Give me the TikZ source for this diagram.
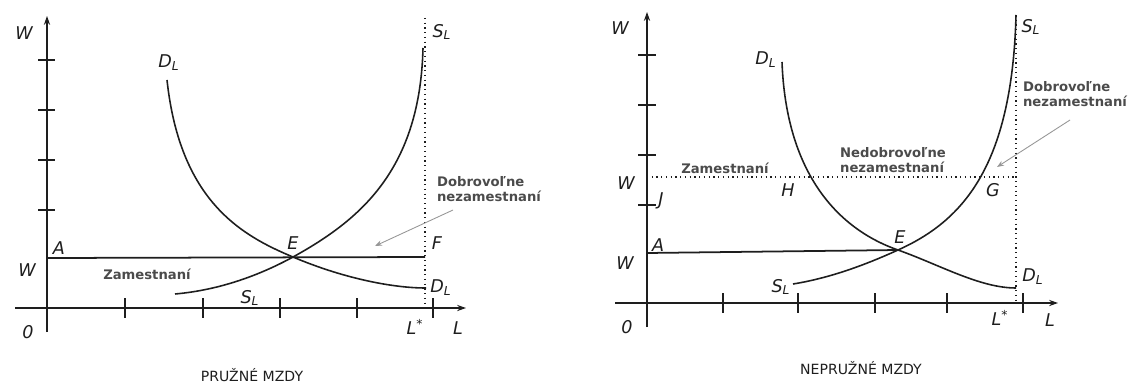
\documentclass[tikz,border=0pt]{standalone}
\usepackage{fontspec}
\setmainfont{DejaVu Sans}
\usetikzlibrary{arrows.meta, positioning}
\definecolor{inkGray}{RGB}{30,30,30}
\definecolor{noteGray}{RGB}{75,75,75}
\definecolor{arrowGray}{RGB}{150,150,150}

\begin{document}
\begin{tikzpicture}[
    x=0.02cm, y=-0.02cm,
    axis/.style={line width=1.2pt, draw=inkGray, -{Stealth[length=5pt,width=3.5pt]}},
    curve/.style={line width=0.9pt, draw=inkGray},
    level/.style={line width=1pt, draw=inkGray},
    guide/.style={line width=0.7pt, draw=inkGray, dotted},
    tickmark/.style={line width=0.9pt, draw=inkGray},
    lbl/.style={font=\fontsize{10}{12}\selectfont\itshape, text=inkGray, inner sep=0pt},
    note/.style={font=\fontsize{7.5}{9}\selectfont\bfseries, text=noteGray, align=left, inner sep=0pt},
    caption/.style={font=\fontsize{8}{10}\selectfont, text=inkGray, inner sep=0pt},
    pointer/.style={draw=arrowGray, line width=0.5pt, -{Stealth[length=4pt,width=3pt]}}
]
\useasboundingbox (0,0) rectangle (1128,385);

\coordinate (o1) at (47,308);
\coordinate (o1w) at (15,308);
\coordinate (o1e) at (466,308);
\coordinate (o1s) at (47,332);
\coordinate (o1n) at (47,16);
\coordinate (a1) at (47,258);
\coordinate (f1) at (425,257);
\coordinate (e1) at (293,257);
\coordinate (star1t) at (425,18);
\coordinate (star1b) at (425,306);

\draw[axis] (o1s) -- (o1n);
\draw[axis] (o1w) -- (o1e);
\foreach \y in {60,110,160,210} \draw[tickmark] (38,\y) -- (55,\y);
\foreach \x in {125,203,280,357,433} \draw[tickmark] (\x,298) -- (\x,318);
\draw[guide] (star1t) -- (star1b);
\draw[level] (a1) -- (f1);
\draw[curve] (167,80) .. controls (180,200) and (240,235) .. (e1)
    .. controls (340,277) and (390,288) .. (426,288);
\draw[curve] (175,294) .. controls (220,290) and (260,275) .. (e1)
    .. controls (360,220) and (420,170) .. (423,48);

\node[lbl] (w1top) at (24,33) {W};
\node[lbl] (w1) at (27,270) {W};
\node[lbl] (zero1) at (28,332) {0};
\node[lbl] (lA1) at (59,248) {A};
\node[lbl] (dl1top) at (169,63) {D\textsubscript{L}};
\node[lbl] (sl1bot) at (250,298) {S\textsubscript{L}};
\node[lbl] (lE1) at (293,243) {E};
\node[lbl] (sl1top) at (442,32) {S\textsubscript{L}};
\node[lbl] (lF1) at (437,243) {F};
\node[lbl] (dl1bot) at (441,288) {D\textsubscript{L}};
\node[lbl] (lstar1) at (415,327) {L\textsuperscript{*}};
\node[lbl] (lL1) at (458,328) {L};
\node[note] (zam1) at (147,274) {Zamestnaní};
\node[note] (dob1) at (489,189) {Dobrovoľne\\nezamestnaní};
\coordinate (dob1tip) at (375,246);
\draw[pointer] (453,210) -- (dob1tip);
\node[caption] (cap1) at (252,375) {PRUŽNÉ MZDY};

\coordinate (o2) at (647,303);
\coordinate (o2w) at (615,303);
\coordinate (o2e) at (1058,303);
\coordinate (o2s) at (647,327);
\coordinate (o2n) at (647,12);
\coordinate (a2) at (647,253);
\coordinate (e2) at (898,250);
\coordinate (j2) at (647,177);
\coordinate (g2) at (1016,177);
\coordinate (star2t) at (1016,15);
\coordinate (star2b) at (1016,301);

\draw[axis] (o2s) -- (o2n);
\draw[axis] (o2w) -- (o2e);
\foreach \y in {55,105,155,205} \draw[tickmark] (638,\y) -- (656,\y);
\foreach \x in {723,798,875,947,1023} \draw[tickmark] (\x,293) -- (\x,313);
\draw[guide] (star2t) -- (star2b);
\draw[guide] (j2) -- (g2);
\draw[level] (a2) -- (e2);
\draw[curve] (782,62) .. controls (786,170) and (835,228) .. (e2)
    .. controls (940,265) and (980,288) .. (1016,288);
\draw[curve] (793,284) .. controls (830,278) and (865,265) .. (e2)
    .. controls (960,222) and (1012,170) .. (1016,15);

\node[lbl] (w2top) at (620,28) {W};
\node[lbl] (w2mid) at (626,183) {W};
\node[lbl] (lJ2) at (661,201) {J};
\node[lbl] (lA2) at (658,245) {A};
\node[lbl] (w2) at (625,263) {W};
\node[lbl] (zero2) at (627,327) {0};
\node[lbl] (dl2top) at (766,60) {D\textsubscript{L}};
\node[lbl] (lH2) at (788,190) {H};
\node[lbl] (lE2) at (900,237) {E};
\node[lbl] (lG2) at (993,190) {G};
\node[lbl] (sl2top) at (1031,27) {S\textsubscript{L}};
\node[lbl] (dl2bot) at (1033,277) {D\textsubscript{L}};
\node[lbl] (sl2bot) at (781,287) {S\textsubscript{L}};
\node[lbl] (lstar2) at (1000,318) {L\textsuperscript{*}};
\node[lbl] (lL2) at (1050,320) {L};
\node[note] (zam2) at (725,168) {Zamestnaní};
\node[note] (ned2) at (893,160) {Nedobrovoľne\\nezamestnaní};
\node[note] (dob2) at (1075,94) {Dobrovoľne\\nezamestnaní};
\coordinate (dob2tip) at (997,167);
\draw[pointer] (1070,120) -- (dob2tip);
\node[caption] (cap2) at (861,368) {NEPRUŽNÉ MZDY};
\end{tikzpicture}
\end{document}
